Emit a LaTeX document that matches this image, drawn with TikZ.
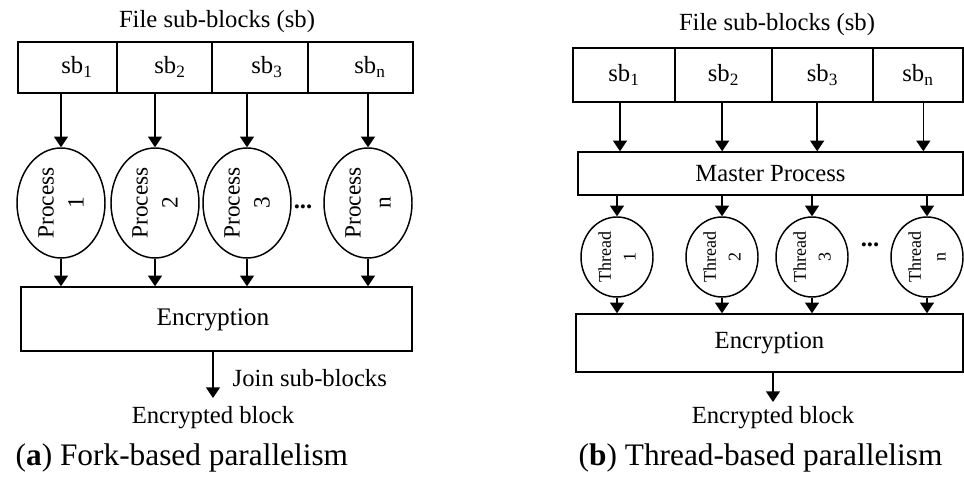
\documentclass[tikz,border=0pt]{standalone}
\usepackage{fontspec}
\setmainfont{Liberation Serif}
\usetikzlibrary{arrows.meta,shapes.geometric}
\begin{document}
\begin{tikzpicture}[x=0.75pt,y=-0.75pt,line width=1.1pt,
  arr/.style={-{Triangle[width=10.5pt,length=8pt]}},
  box/.style 2 args={draw,rectangle,inner sep=0pt,minimum width=#1*0.75pt,minimum height=#2*0.75pt},
  oval/.style 2 args={draw,ellipse,inner sep=0pt,minimum width=#1*0.75pt,minimum height=#2*0.75pt},
  txt/.style={inner sep=0pt,font=\fontsize{18.5}{22}\selectfont},
  ptxt/.style={inner sep=0pt,rotate=90,align=center,font=\fontsize{17.5}{22.5}\selectfont},
  ttxt/.style={inner sep=0pt,rotate=90,align=center,font=\fontsize{13.5}{18.5}\selectfont},
  captxt/.style={inner sep=0pt,anchor=west,font=\fontsize{23.5}{27}\selectfont}]
\useasboundingbox (0,0) rectangle (964,484);
% ---------------- (a) ----------------
\node[txt] (tL) at (217,22) {File sub-blocks (sb)};
\node[box={99}{51}] (c1) at (67.5,67.5) {};
\node[box={95}{51}] (c2) at (164.5,67.5) {};
\node[box={96}{51}] (c3) at (260,67.5) {};
\node[box={105}{51}] (c4) at (360.5,67.5) {};
\node[txt] (s1) at (77,67) {sb\textsubscript{1}};
\node[txt] (s2) at (170,67) {sb\textsubscript{2}};
\node[txt] (s3) at (267,67) {sb\textsubscript{3}};
\node[txt] (s4) at (370,67) {sb\textsubscript{n}};
\node[oval={88}{110}] (p1) at (61,203) {};
\node[oval={88}{110}] (p2) at (155,203) {};
\node[oval={88}{110}] (p3) at (247,203) {};
\node[oval={88}{110}] (p4) at (368,203) {};
\node[ptxt] (q1) at (61,203) {Process\\1};
\node[ptxt] (q2) at (155,203) {Process\\2};
\node[ptxt] (q3) at (247,203) {Process\\3};
\node[ptxt] (q4) at (368,203) {Process\\n};
\node[txt] (dL) at (303,207) {\textbf{...}};
\node[box={391}{64}] (eL) at (216.5,319) {};
\node[txt,font=\fontsize{19}{22}\selectfont] (eLt) at (213,320) {Encryption};
\foreach \i/\c in {1/c1,2/c2,3/c3,4/c4}{
  \draw[arr] (p\i.north |- \c.south) -- (p\i.north);
  \draw[arr] (p\i.south) -- (p\i.south |- eL.north);
}
\coordinate (jL) at (213,398);
\draw[arr] (eL.south -| jL) -- (jL);
\node[txt,anchor=west] (jLt) at (232,378) {Join sub-blocks};
\node[txt] (oL) at (213,418) {Encrypted block};
\node[captxt] (capL) at (15,458) {(\textbf{a}) Fork-based parallelism};
% ---------------- (b) ----------------
\node[txt] (tR) at (777,25) {File sub-blocks (sb)};
\node[box={102}{54},txt,draw] (d1) at (624,75) {sb\textsubscript{1}};
\node[box={97}{54},txt,draw] (d2) at (723.5,75) {sb\textsubscript{2}};
\node[box={101}{54},txt,draw] (d3) at (822.5,75) {sb\textsubscript{3}};
\node[box={90}{54},txt,draw] (d4) at (918,75) {sb\textsubscript{n}};
\node[box={385}{43},txt,draw] (m) at (770.5,173.5) {Master Process};
\draw[arr] ([xshift=-3pt]d1.south) -- ([xshift=-3pt]d1.south |- m.north);
\draw[arr] ([xshift=-1pt]d2.south) -- ([xshift=-1pt]d2.south |- m.north);
\draw[arr] ([xshift=-4pt]d3.south) -- ([xshift=-4pt]d3.south |- m.north);
\draw[arr] ([xshift=4pt]d4.south) -- ([xshift=4pt]d4.south |- m.north);
\node[oval={72}{80}] (t1) at (617,257) {};
\node[oval={72}{80}] (t2) at (722,257) {};
\node[oval={72}{80}] (t3) at (812,257) {};
\node[oval={72}{80}] (t4) at (927,257) {};
\node[ttxt] (u1) at (617,257) {Thread\\1};
\node[ttxt] (u2) at (722,257) {Thread\\2};
\node[ttxt] (u3) at (812,257) {Thread\\3};
\node[ttxt] (u4) at (927,257) {Thread\\n};
\node[txt] (dR) at (870,245) {\textbf{...}};
\node[box={387}{58},txt,draw] (eR) at (769.5,343) {Encryption};
\foreach \i in {1,2,3,4}{
  \draw[arr] (t\i.north |- m.south) -- (t\i.north);
  \draw[arr] (t\i.south) -- (t\i.south |- eR.north);
}
\coordinate (jR) at (773,402);
\draw[arr] (eR.south -| jR) -- (jR);
\node[txt] (oR) at (773,418) {Encrypted block};
\node[captxt] (capR) at (578,458) {(\textbf{b}) Thread-based parallelism};
\end{tikzpicture}
\end{document}
